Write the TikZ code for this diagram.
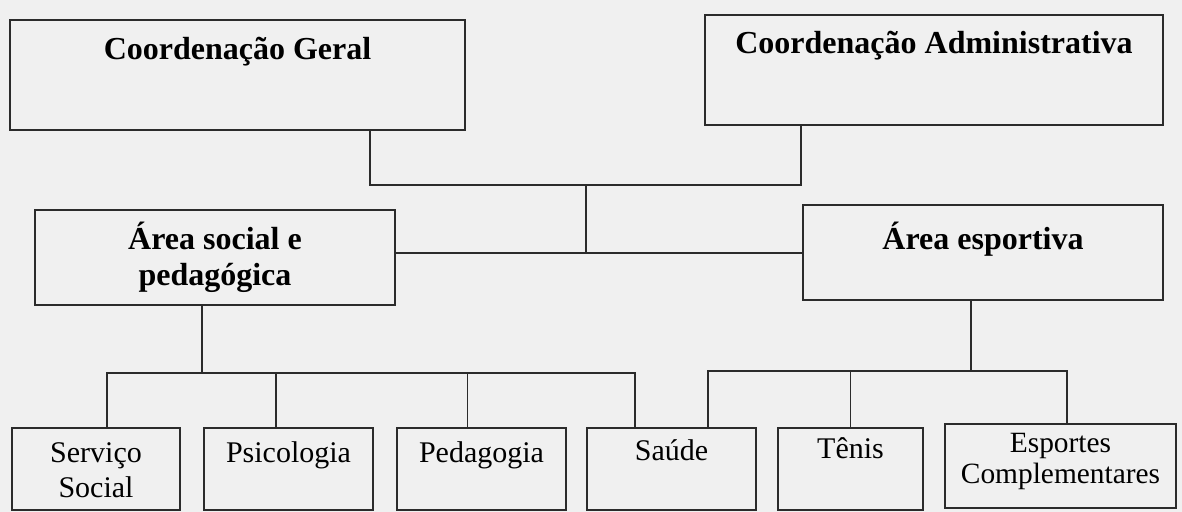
\documentclass[tikz,border=0pt]{standalone}
\usepackage{fontspec}
\setmainfont{Liberation Serif}
\usetikzlibrary{positioning}
\definecolor{paper}{HTML}{F0F0F0}
\definecolor{ink}{HTML}{2B2B2B}

\begin{document}
\begin{tikzpicture}[x=0.5pt,y=-0.5pt,
    box/.style={draw=ink, line width=0.9pt, inner sep=0pt},
    wire/.style={draw=ink, line width=0.9pt},
    head/.style={font=\fontsize{16}{18}\selectfont\bfseries, align=center, inner sep=0pt},
    sub/.style={font=\fontsize{15}{17.5}\selectfont, align=center, inner sep=0pt}]
    % Background
    \fill[paper] (0,0) rectangle (1182,512);
    \useasboundingbox (0,0) rectangle (1182,512);

    % Coordination boxes
    \node[box, minimum width=227.5pt, minimum height=55pt] (geral) at (237.5,75) {};
    \node[box, minimum width=229pt, minimum height=55pt] (admin) at (934,70) {};
    \node[head, below=9pt] (geralT) at (geral.north) {Coordenação Geral};
    \node[head, below=8.5pt] (adminT) at (admin.north) {Coordenação Administrativa};

    % Area boxes
    \node[box, minimum width=180pt, minimum height=47.5pt] (social) at (215,257.5) {};
    \node[box, minimum width=180pt, minimum height=47.5pt] (sport) at (983,252.5) {};
    \node[head, below=6.5pt] (socialT) at (social.north) {Área social e\\pedagógica};
    \node[head, below=9pt] (sportT) at (sport.north) {Área esportiva};

    % Bottom row
    \node[box, minimum width=84pt, minimum height=41pt] (servico) at (96,469) {};
    \node[box, minimum width=84.5pt, minimum height=41pt] (psico) at (288.5,469) {};
    \node[box, minimum width=84.5pt, minimum height=41pt] (pedago) at (481.5,469) {};
    \node[box, minimum width=84.5pt, minimum height=41pt] (saude) at (671.5,469) {};
    \node[box, minimum width=72.5pt, minimum height=41pt] (tenis) at (850.5,469) {};
    \node[box, minimum width=115.5pt, minimum height=42pt] (esportes) at (1060.5,466) {};
    \node[sub, below=7.5pt] (servicoT) at (servico.north) {Serviço\\Social};
    \node[sub, below=7pt] (psicoT) at (psico.north) {Psicologia};
    \node[sub, below=7pt] (pedagoT) at (pedago.north) {Pedagogia};
    \node[sub, below=6pt] (saudeT) at (saude.north) {Saúde};
    \node[sub, below=5pt] (tenisT) at (tenis.north) {Tênis};
    \node[sub, below=5pt, font=\fontsize{14.7}{15.5}\selectfont] (esportesT) at (esportes.north) {Esportes\\Complementares};

    % Top connectors
    \coordinate (topbus) at (586,185);
    \coordinate (hub) at (586,253);
    \draw[wire] ([xshift=66.25pt]geral.south) |- (topbus) -| ([xshift=-66.5pt]admin.south);
    \draw[wire] (topbus) -- (hub);
    \draw[wire] (social.east |- hub) -- (sport.west |- hub);

    % Social branch
    \coordinate (socbus) at (202,373);
    \draw[wire] ([xshift=-6.5pt]social.south) -- (socbus);
    \draw[wire] ([xshift=5.5pt]servico.north) |- ([xshift=-18.25pt]saude.north |- socbus) -- ([xshift=-18.25pt]saude.north);
    \foreach \n/\s in {psico/-6.25pt, pedago/-7pt}
        \draw[wire] ([xshift=\s]\n.north) -- ([xshift=\s]\n.north |- socbus);

    % Sport branch
    \coordinate (espbus) at (971,371);
    \draw[wire] ([xshift=-6pt]sport.south) -- (espbus);
    \draw[wire] ([xshift=18.25pt]saude.north) |- ([xshift=3.25pt]esportes.north |- espbus) -- ([xshift=3.25pt]esportes.north);
    \draw[wire] (tenis.north) -- (tenis.north |- espbus);
\end{tikzpicture}
\end{document}
